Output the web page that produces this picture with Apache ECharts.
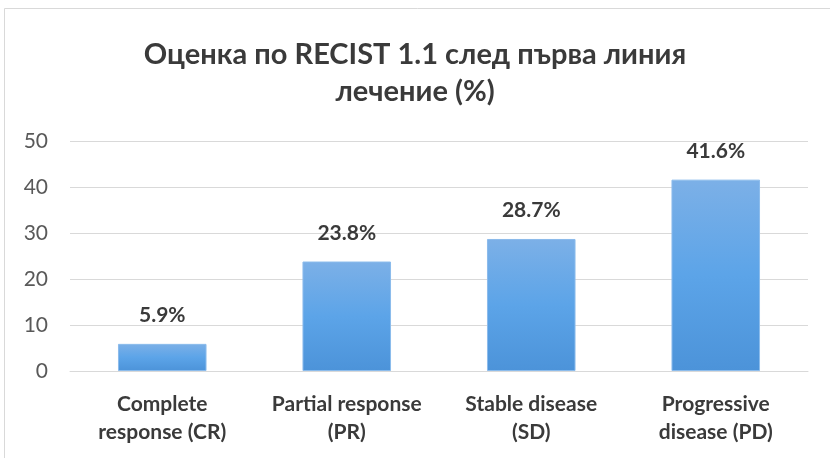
<!DOCTYPE html>
<html>
<head>
<meta charset="utf-8">
<script src="https://cdn.jsdelivr.net/npm/echarts@6/dist/echarts.min.js"></script>
<style>
  html, body { margin: 0; padding: 0; background: #fff; }
  #chart { width: 830px; height: 458px; }
</style>
</head>
<body>
<div id="chart"></div>
<script>
// data
var categories = ['Complete\nresponse (CR)', 'Partial response\n(PR)', 'Stable disease\n(SD)', 'Progressive\ndisease (PD)'];
var values = [5.9, 23.8, 28.7, 41.6];
var yTicks = [0, 10, 20, 30, 40, 50];

var font = 'Lato, "Open Sans", sans-serif';

var option = {
    animation: false,
    title: {
        text: 'Оценка по RECIST 1.1 след първа линия\nлечение (%)',
        left: 'center',
        top: 31,
        textStyle: {
            fontFamily: font,
            fontSize: 29,
            fontWeight: 'bold',
            color: '#3a3a3a',
            lineHeight: 37
        }
    },
    graphic: [{
        type: 'rect',
        shape: {x: 4.5, y: 8.5, width: 1000, height: 1000},
        style: {fill: 'none', stroke: '#d9d9d9', lineWidth: 1},
        silent: true
    }],
    grid: {left: 70, right: 22, top: 141, bottom: 87},
    xAxis: {
        type: 'category',
        data: categories,
        axisLine: {lineStyle: {color: '#d9d9d9', width: 1}},
        axisTick: {show: false},
        axisLabel: {
            fontFamily: font,
            fontSize: 21,
            fontWeight: 'bold',
            color: '#3a3a3a',
            lineHeight: 28,
            margin: 19,
            interval: 0
        }
    },
    yAxis: {
        type: 'value',
        min: yTicks[0],
        max: yTicks[yTicks.length - 1],
        interval: 10,
        axisLine: {show: false},
        axisTick: {show: false},
        splitLine: {lineStyle: {color: '#d9d9d9', width: 1}},
        axisLabel: {
            fontFamily: font,
            fontSize: 21,
            color: '#595959',
            margin: 22
        }
    },
    series: [{
        type: 'bar',
        data: values,
        barWidth: '48%',
        itemStyle: {
            color: new echarts.graphic.LinearGradient(0, 0, 0, 1, [
                {offset: 0, color: '#7cb0e7'},
                {offset: 0.5, color: '#5ca4e8'},
                {offset: 1, color: '#4c93d9'}
            ]),
            borderColor: '#8cbcec',
            borderWidth: 1
        },
        label: {
            show: true,
            position: 'top',
            distance: 18,
            formatter: '{c}%',
            fontFamily: font,
            fontSize: 21,
            fontWeight: 'bold',
            color: '#3a3a3a'
        }
    }]
};

var myChart = echarts.init(document.getElementById('chart'));
myChart.setOption(option);
</script>
</body>
</html>
